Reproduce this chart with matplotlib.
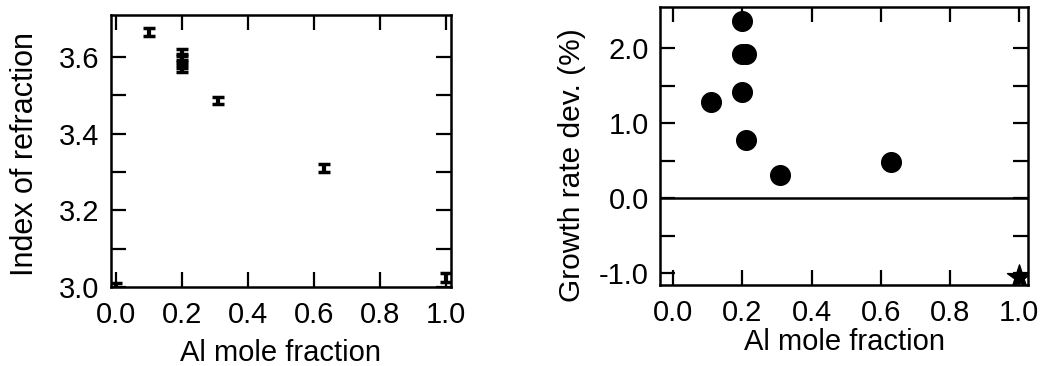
import matplotlib
matplotlib.use("Agg")
import matplotlib.pyplot as plt
import numpy as np
from matplotlib.ticker import MultipleLocator, FixedLocator

plt.rcParams['font.family'] = ['Liberation Sans', 'DejaVu Sans']

# left panel: refractive index vs Al fraction
al_index = [0.0, 0.1, 0.2, 0.2, 0.2, 0.2, 0.31, 0.63, 1.0]
n_index = [3.0, 3.665, 3.612, 3.597, 3.582, 3.570, 3.487, 3.310, 3.025]
n_err = [0.01, 0.01, 0.01, 0.01, 0.01, 0.01, 0.01, 0.01, 0.012]

# right panel: growth rate deviation
al_growth = [0.11, 0.2, 0.2, 0.21, 0.2, 0.21, 0.31, 0.63]
growth_dev = [1.28, 2.36, 1.92, 1.92, 1.41, 0.78, 0.31, 0.48]
al_alas = [1.0]
growth_alas = [-1.05]

x_ticks = [0.0, 0.2, 0.4, 0.6, 0.8, 1.0]

fig = plt.figure(figsize=(10.44, 3.66), dpi=100)
ax1 = fig.add_axes([0.106, 0.216, 0.326, 0.743])
ax2 = fig.add_axes([0.632, 0.221, 0.353, 0.760])


def style(ax):
    for s in ax.spines.values():
        s.set_linewidth(1.8)
    ax.tick_params(which='both', direction='in', top=True, right=True,
                   length=11, width=1.6, labelsize=21, pad=8)
    ax.tick_params(axis='x', pad=10)
    ax.set_xticks(x_ticks)
    ax.set_xticklabels([f"{v:.1f}" for v in x_ticks])


ax1.errorbar(al_index, n_index, yerr=n_err, fmt='none', ecolor='black',
             elinewidth=3, capsize=4.5, capthick=2.5)
ax1.set_xlim(-0.015, 1.015)
ax1.set_ylim(3.0, 3.71)
style(ax1)
ax1.yaxis.set_major_locator(FixedLocator([3.0, 3.2, 3.4, 3.6]))
ax1.yaxis.set_minor_locator(FixedLocator([3.1, 3.3, 3.5]))
ax1.set_yticklabels(["3.0", "3.2", "3.4", "3.6"])
ax1.set_xlabel("Al mole fraction", fontsize=21, labelpad=7)
ax1.set_ylabel("Index of refraction", fontsize=22, labelpad=14, y=0.49)

ax2.scatter(al_growth, growth_dev, s=200, color='black', zorder=3)
ax2.scatter(al_alas, growth_alas, s=330, marker='*', color='black', zorder=3)
ax2.axhline(0, color='black', lw=1.8)
ax2.set_xlim(-0.038, 1.026)
ax2.set_ylim(-1.16, 2.55)
style(ax2)
ax2.yaxis.set_major_locator(FixedLocator([-1.0, 0.0, 1.0, 2.0]))
ax2.yaxis.set_minor_locator(FixedLocator([-0.5, 0.5, 1.5]))
ax2.set_yticklabels(["-1.0", "0.0", "1.0", "2.0"])
ax2.set_xlabel("Al mole fraction", fontsize=21, labelpad=1)
ax2.set_ylabel("Growth rate dev. (%)", fontsize=21.5, labelpad=9, y=0.43)

fig.savefig("out.png", dpi=100)
